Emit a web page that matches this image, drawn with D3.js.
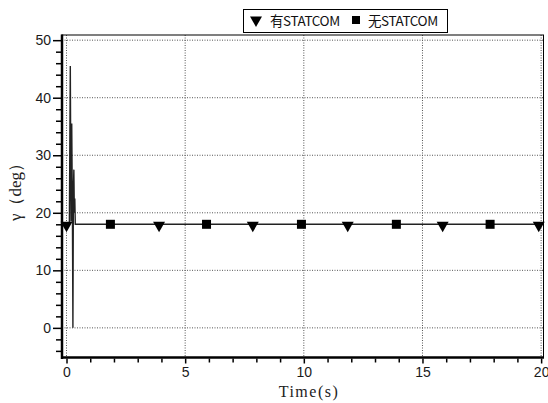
<!DOCTYPE html>
<html>
<head>
<meta charset="utf-8">
<script src="https://cdn.jsdelivr.net/npm/d3@7"></script>
<style>
  body { margin: 0; background: #fff; }
  svg { display: block; }
</style>
</head>
<body>
<div id="chart"></div>
<script>
// curve values (time in s, gamma in deg)
var timeVals  = [0, 0.12, 0.16, 0.19, 0.22, 0.25, 0.27, 0.29, 0.31, 0.33, 0.35, 0.37, 20];
var gammaVals = [18, 18, 45.5, 18.5, 35.5, 19, 0, 24, 27.5, 20, 22.5, 18, 18];

// marker positions of the two series
var withTimes = [0, 3.9, 7.85, 11.85, 15.85, 19.9];
var withoutTimes = [1.85, 5.9, 9.9, 13.9, 17.85];
var markerLevel = 18;

var xTicks = [0, 5, 10, 15, 20];
var yTicks = [0, 10, 20, 30, 40, 50];

var width = 548, height = 403;
var pLeft = 62, pRight = 543.5, pTop = 35, pBottom = 357.5;

var svg = d3.select("#chart")
  .append("svg")
    .attr("width", width)
    .attr("height", height);

var x = d3.scaleLinear().domain([-0.19, 20.1]).range([pLeft, pRight]);
var y = d3.scaleLinear().domain([-5.15, 50.9]).range([pBottom, pTop]);

// dotted grid
svg.selectAll(".gx")
  .data(xTicks)
  .enter()
  .append("line")
    .attr("x1", function(d) {return x(d)})
    .attr("x2", function(d) {return x(d)})
    .attr("y1", pTop)
    .attr("y2", pBottom)
    .attr("stroke", "#555")
    .attr("stroke-width", 1)
    .attr("stroke-dasharray", "1,1.5");

svg.selectAll(".gy")
  .data(yTicks)
  .enter()
  .append("line")
    .attr("x1", pLeft)
    .attr("x2", pRight)
    .attr("y1", function(d) {return y(d)})
    .attr("y2", function(d) {return y(d)})
    .attr("stroke", "#555")
    .attr("stroke-width", 1)
    .attr("stroke-dasharray", "1,1.5");

// axes
var xAxis = d3.axisBottom(x).tickValues(xTicks).tickSize(5).tickPadding(4);
var xMinor = d3.axisBottom(x).tickValues(d3.range(1, 21).filter(function(d) {return d % 5 != 0})).tickSize(4).tickFormat("");
var yAxis = d3.axisLeft(y).tickValues(yTicks).tickSize(8).tickPadding(2);
var yMinor = d3.axisLeft(y).tickValues(d3.range(-4, 51, 2).filter(function(d) {return d % 10 != 0})).tickSize(5).tickFormat("");

function styleAxis(g) {
  g.select(".domain").remove();
  g.attr("font-family", "'Liberation Sans', Arial, sans-serif").attr("font-size", 14);
  g.selectAll("line").attr("stroke", "#000").attr("stroke-width", 1.5);
  g.selectAll("text").attr("fill", "#1a1a1a");
}

svg.append("g").attr("transform", "translate(0," + (pBottom + 1) + ")").call(xAxis).call(styleAxis);
svg.append("g").attr("transform", "translate(0," + (pBottom + 1) + ")").call(xMinor).call(styleAxis);
svg.append("g").attr("transform", "translate(" + (pLeft - 1) + ",0)").call(yAxis).call(styleAxis);
svg.append("g").attr("transform", "translate(" + (pLeft - 1) + ",0)").call(yMinor).call(styleAxis);

// frame: thin top/right, heavy left/bottom
svg.append("rect")
  .attr("x", pLeft)
  .attr("y", pTop)
  .attr("width", pRight - pLeft)
  .attr("height", pBottom - pTop)
  .attr("fill", "none")
  .attr("stroke", "#000")
  .attr("stroke-width", 1);
svg.append("line").attr("x1", pLeft).attr("x2", pLeft).attr("y1", pTop - 0.5).attr("y2", pBottom + 1.5)
  .attr("stroke", "#000").attr("stroke-width", 2.5);
svg.append("line").attr("x1", pLeft - 1).attr("x2", pRight + 0.5).attr("y1", pBottom).attr("y2", pBottom)
  .attr("stroke", "#000").attr("stroke-width", 2.5);

// curve
var line = d3.line()
  .x(function(d, i) {return x(timeVals[i])})
  .y(function(d) {return y(d)});

svg.append("path")
  .datum(gammaVals)
  .attr("d", line)
  .attr("fill", "none")
  .attr("stroke", "#222")
  .attr("stroke-width", 1.4);

// markers
var tri = d3.symbol().type(d3.symbolTriangle).size(62);
svg.selectAll(".tri")
  .data(withTimes)
  .enter()
  .append("path")
    .attr("d", tri)
    .attr("transform", function(d) {return "translate(" + x(d) + "," + (y(markerLevel) + 1) + ") rotate(180)"})
    .attr("fill", "#000");

svg.selectAll(".sq")
  .data(withoutTimes)
  .enter()
  .append("rect")
    .attr("x", function(d) {return x(d) - 4.5})
    .attr("y", y(markerLevel) - 4.5)
    .attr("width", 9)
    .attr("height", 9)
    .attr("fill", "#000");

// legend
var legend = svg.append("g");
legend.append("rect")
  .attr("x", 243.5)
  .attr("y", 9.5)
  .attr("width", 204)
  .attr("height", 23)
  .attr("fill", "#fff")
  .attr("stroke", "#000")
  .attr("stroke-width", 1);
legend.append("path")
  .attr("d", tri)
  .attr("transform", "translate(256,20) rotate(180)")
  .attr("fill", "#000");
legend.append("text")
  .attr("x", 270)
  .attr("y", 26)
  .attr("font-family", "'Noto Sans CJK SC', sans-serif")
  .attr("font-size", 13.5)
  .attr("letter-spacing", "-0.4px")
  .attr("fill", "#111")
  .text("有STATCOM");
legend.append("rect")
  .attr("x", 352)
  .attr("y", 16)
  .attr("width", 8)
  .attr("height", 8)
  .attr("fill", "#000");
legend.append("text")
  .attr("x", 368)
  .attr("y", 26)
  .attr("font-family", "'Noto Sans CJK SC', sans-serif")
  .attr("font-size", 13.5)
  .attr("letter-spacing", "-0.4px")
  .attr("fill", "#111")
  .text("无STATCOM");

// axis titles
svg.append("text")
  .attr("x", 309)
  .attr("y", 397)
  .attr("text-anchor", "middle")
  .attr("font-family", "'Liberation Serif', 'DejaVu Serif', serif")
  .attr("font-size", 16)
  .attr("letter-spacing", "1.5px")
  .attr("fill", "#222")
  .text("Time(s)");

svg.append("text")
  .attr("transform", "translate(21,188) rotate(-90)")
  .attr("text-anchor", "middle")
  .attr("font-family", "'Liberation Serif', 'DejaVu Serif', serif")
  .attr("font-size", 17)
  .attr("fill", "#222")
  .text("γ（deg）");
</script>
</body>
</html>
